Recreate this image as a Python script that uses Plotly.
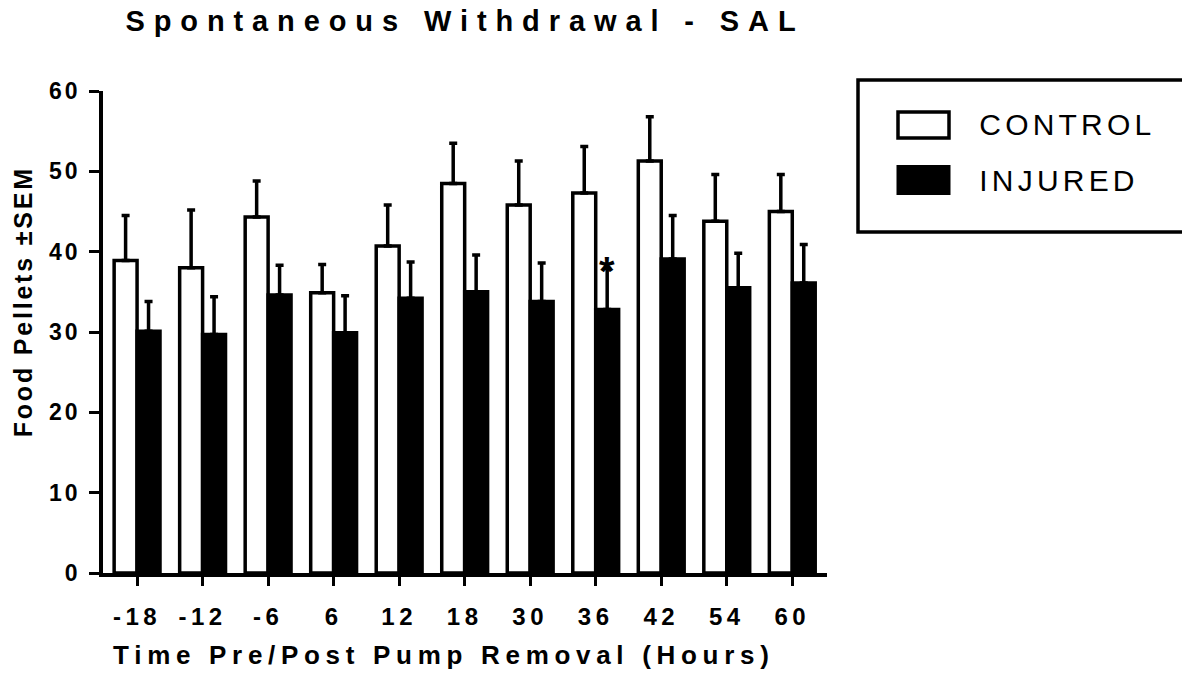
import plotly.graph_objects as go

categories = ["-18", "-12", "-6", "6", "12", "18", "30", "36", "42", "54", "60"]
control = [38.9, 38.0, 44.3, 34.9, 40.7, 48.5, 45.8, 47.3, 51.3, 43.8, 45.0]
control_sem = [5.6, 7.2, 4.5, 3.5, 5.1, 5.0, 5.5, 5.8, 5.5, 5.8, 4.6]
injured = [30.1, 29.7, 34.6, 29.9, 34.2, 35.0, 33.8, 32.8, 39.1, 35.5, 36.1]
injured_sem = [3.7, 4.7, 3.7, 4.6, 4.5, 4.6, 4.8, 5.1, 5.4, 4.3, 4.8]
sig_index = 7  # asterisk over INJURED at 36 h

title_text = "Spontaneous Withdrawal - SAL"
x_title = "Time Pre/Post Pump Removal (Hours)"
y_title = "Food Pellets ±SEM"
legend_labels = ["CONTROL", "INJURED"]

FONT = "Liberation Sans, Arial, sans-serif"

fig = go.Figure()
fig.add_trace(go.Bar(
    x=categories, y=control, name=legend_labels[0],
    marker=dict(color="white", line=dict(color="black", width=3.5)),
    error_y=dict(type="data", array=control_sem, arrayminus=[0] * len(control),
                 symmetric=False, color="black", thickness=3.5, width=4),
))
fig.add_trace(go.Bar(
    x=categories, y=injured, name=legend_labels[1],
    marker=dict(color="black", line=dict(color="black", width=3.5)),
    error_y=dict(type="data", array=injured_sem, arrayminus=[0] * len(injured),
                 symmetric=False, color="black", thickness=3.5, width=4),
))

fig.add_annotation(
    x=sig_index, y=injured[sig_index] + injured_sem[sig_index],
    text="*", showarrow=False, xshift=11.5, yshift=-2, yanchor="middle",
    font=dict(family=FONT, size=40, color="black", weight="bold"),
)

# plot-area geometry in pixels
L, B, PW, PH = 103, 108, 724, 482
def px(xp):
    return (xp - L) / PW
def py(yp):
    return (681 - B - yp) / PH

# legend drawn as a framed box at the right
fig.add_shape(type="rect", xref="paper", yref="paper",
              x0=px(858), x1=px(1200), y0=py(232), y1=py(80),
              line=dict(color="black", width=3.5), fillcolor="white")
fig.add_shape(type="rect", xref="paper", yref="paper",
              x0=px(898), x1=px(949), y0=py(138), y1=py(112),
              line=dict(color="black", width=3.5), fillcolor="white")
fig.add_shape(type="rect", xref="paper", yref="paper",
              x0=px(896.5), x1=px(950.5), y0=py(195), y1=py(165),
              line=dict(color="black", width=0), fillcolor="black")
for label, yc in zip(legend_labels, (125, 180)):
    fig.add_annotation(xref="paper", yref="paper", x=px(992), y=py(yc),
                       xanchor="left", yanchor="middle", showarrow=False,
                       text=label, font=dict(family=FONT, size=30, color="black"))

# axis titles
fig.add_annotation(xref="paper", yref="paper", x=px(444), y=py(655),
                   xanchor="center", yanchor="middle", showarrow=False,
                   text=x_title, font=dict(family=FONT, size=26, color="black", weight="bold"))
fig.add_annotation(xref="paper", yref="paper", x=px(22.5), y=py(302),
                   xanchor="center", yanchor="middle", showarrow=False, textangle=-90,
                   text=y_title, font=dict(family=FONT, size=25, color="black", weight="bold"))

fig.update_layout(
    width=1182, height=681,
    margin=dict(l=L, r=1182 - L - PW, t=681 - B - PH, b=B, autoexpand=False),
    paper_bgcolor="white", plot_bgcolor="white",
    barmode="group", bargap=0.3, bargroupgap=0,
    showlegend=False,
    title=dict(text=title_text, x=465 / 1182, xanchor="center",
               y=1 - 21 / 681, yanchor="middle", yref="container",
               font=dict(family=FONT, size=29, color="black", weight="bold")),
    font=dict(family=FONT, color="black"),
)
fig.update_xaxes(
    type="category", range=[-0.52, 10.53], automargin=False,
    showline=True, linecolor="black", linewidth=3.5,
    ticks="outside", ticklen=9, tickwidth=3, tickcolor="black",
    showgrid=False, zeroline=False, ticklabelstandoff=10,
    tickfont=dict(family=FONT, size=24, color="black", weight="bold"),
)
fig.update_yaxes(
    range=[0, 60], tickvals=[0, 10, 20, 30, 40, 50, 60], automargin=False,
    showline=True, linecolor="black", linewidth=3.5,
    ticks="outside", ticklen=10, tickwidth=3, tickcolor="black",
    showgrid=False, zeroline=False, ticklabelstandoff=4,
    tickfont=dict(family=FONT, size=23, color="black", weight="bold"),
)

post = """
(function(){
  document.body.style.margin = '0';
  document.body.style.padding = '0';
  var byText = {'CONTROL': 4.2, 'INJURED': 4.2,
                'Time Pre/Post Pump Removal (Hours)': 5.7,
                'Food Pellets \\u00b1SEM': 2.8};
  function sp(sel, v){ document.querySelectorAll(sel).forEach(function(e){ e.style.letterSpacing = v + 'px'; }); }
  function apply(){
    sp('.gtitle', 8.9);
    sp('.xtick text', 4.5);
    sp('.ytick text', 3);
    document.querySelectorAll('.annotation-text').forEach(function(e){
      var v = byText[e.textContent];
      if (v !== undefined) { e.style.letterSpacing = v + 'px'; }
    });
  }
  apply();
  var gd = document.getElementsByClassName('plotly-graph-div')[0];
  if (gd && gd.on) { gd.on('plotly_afterplot', apply); }
})();
"""
fig.write_html("out.html", post_script=post, config={"displayModeBar": False})
